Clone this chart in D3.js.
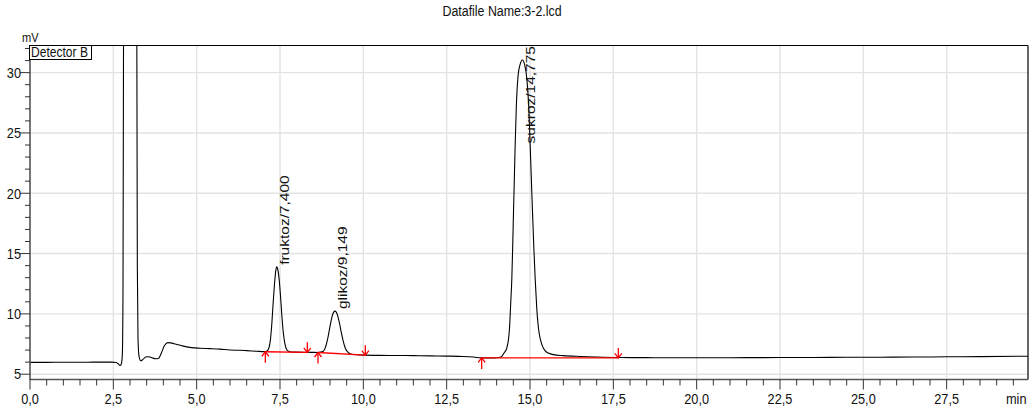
<!DOCTYPE html>
<html>
<head>
<meta charset="utf-8">
<script src="https://cdn.jsdelivr.net/npm/d3@7"></script>
<style>
  html, body { margin: 0; padding: 0; background: #fff; }
  svg { display: block; font-family: "Liberation Sans", Arial, Helvetica, sans-serif; }
</style>
</head>
<body>
<svg id="chart" width="1035" height="412"></svg>
<script>
// ---- chart text ----
const titleText = "Datafile Name:3-2.lcd";
const detectorName = "Detector B";
const xUnit = "min";
const yUnit = "mV";

// ---- axis ticks ----
const xTicks = [0, 2.5, 5, 7.5, 10, 12.5, 15, 17.5, 20, 22.5, 25, 27.5];
const yTicks = [5, 10, 15, 20, 25, 30];
const xMinorStep = 0.5;
const yMinorStep = 1;
const xDomain = [0, 29.94];
const yDomain = [4.56, 32.25];

// ---- detector signal, [time (min), signal (mV)] ----
const solventFront = [
  [0.00, 5.98], [0.50, 5.98], [1.00, 5.99], [1.50, 5.99], [2.00, 6.00], [2.45, 6.00],
  [2.58, 5.97], [2.65, 5.85], [2.70, 5.72], [2.74, 5.85], [2.77, 6.60], [2.79, 12.0],
  [2.81, 40.0], [2.84, 90.0], [3.00, 130.0], [3.17, 90.0], [3.20, 40.0], [3.22, 14.0],
  [3.24, 8.00], [3.27, 6.50], [3.32, 6.12], [3.38, 6.20], [3.47, 6.42], [3.56, 6.45],
  [3.66, 6.36], [3.78, 6.28], [3.86, 6.33], [3.94, 6.75], [4.03, 7.35], [4.13, 7.62],
  [4.22, 7.60], [4.38, 7.48], [4.60, 7.33], [4.85, 7.20], [5.10, 7.15], [5.40, 7.12],
  [5.70, 7.08], [6.00, 7.00], [6.30, 6.98], [6.50, 6.95], [6.80, 6.90]
];
const fruktozPeak = [
  [7.03, 6.87], [7.12, 6.95], [7.17, 7.20], [7.21, 7.80], [7.25, 9.00], [7.29, 10.7],
  [7.33, 12.3], [7.37, 13.5], [7.40, 13.9], [7.44, 13.6], [7.48, 12.7], [7.52, 11.3],
  [7.56, 9.70], [7.60, 8.40], [7.65, 7.50], [7.70, 7.05], [7.76, 6.90], [7.85, 6.84],
  [8.00, 6.83], [8.20, 6.82], [8.45, 6.81]
];
const glikozPeak = [
  [8.64, 6.80], [8.72, 6.83], [8.80, 6.90], [8.86, 7.20], [8.92, 7.80], [8.97, 8.50],
  [9.02, 9.25], [9.07, 9.85], [9.11, 10.15], [9.149, 10.23], [9.19, 10.13], [9.24, 9.75],
  [9.29, 9.15], [9.34, 8.45], [9.40, 7.70], [9.46, 7.15], [9.53, 6.85], [9.62, 6.68],
  [9.80, 6.61], [10.06, 6.58]
];
const midBaseline = [
  [10.50, 6.56], [11.00, 6.55], [11.50, 6.54], [12.00, 6.52], [12.50, 6.50],
  [13.00, 6.47], [13.30, 6.42], [13.55, 6.35], [13.80, 6.34], [14.00, 6.36]
];
const sukrozPeak = [
  [14.10, 6.40], [14.16, 6.50], [14.23, 6.80], [14.30, 7.13], [14.35, 7.80], [14.385, 8.79],
  [14.42, 10.8], [14.455, 12.94], [14.48, 15.5], [14.505, 18.47], [14.53, 21.2], [14.555, 24.0],
  [14.59, 27.2], [14.635, 29.5], [14.70, 30.65], [14.775, 31.05], [14.84, 30.65], [14.905, 29.5],
  [14.96, 27.3], [15.005, 24.0], [15.04, 21.2], [15.075, 18.47], [15.115, 15.5], [15.155, 12.94],
  [15.20, 10.6], [15.255, 8.79], [15.31, 7.90], [15.37, 7.35], [15.45, 6.95], [15.55, 6.75],
  [15.70, 6.62], [16.00, 6.54], [16.50, 6.47], [17.00, 6.42], [17.65, 6.38]
];
const tailBaseline = [
  [18.50, 6.37], [19.50, 6.36], [20.50, 6.36], [21.50, 6.37], [22.50, 6.38], [23.50, 6.39],
  [24.50, 6.40], [25.50, 6.41], [26.50, 6.42], [27.50, 6.44], [28.50, 6.46], [29.94, 6.49]
];

// ---- integrated peaks ----
const peakNames = ["fruktoz", "glikoz", "sukroz"];
const peakTimes = [7.400, 9.149, 14.775];
const peakHeights = [13.9, 10.23, 31.05];
const baseStartTime = [7.06, 8.64, 13.55];
const baseStartValue = [6.86, 6.80, 6.35];
const baseEndTime = [8.32, 10.06, 17.65];
const baseEndValue = [6.81, 6.58, 6.35];

// ---- layout ----
const plot = { left: 30, right: 1028, top: 45.5, bottom: 379.5 };
const hSquash = 0.85; // horizontal glyph compression used for all text

const svg = d3.select("#chart");
svg.append("rect").attr("width", 1035).attr("height", 412).attr("fill", "#fff");

const x = d3.scaleLinear().domain(xDomain).range([plot.left, plot.right]);
const y = d3.scaleLinear().domain(yDomain).range([plot.bottom, plot.top]);

const fmtComma = d => d3.format(".1f")(d).replace(".", ",");
const fmtRt = d => d3.format(".3f")(d).replace(".", ",");

// grid
const grid = svg.append("g").attr("stroke", "#e3e3e3").attr("stroke-width", 1.4);
grid.selectAll("line.v").data(xTicks.filter(d => d > 0)).join("line")
  .attr("x1", d => x(d)).attr("x2", d => x(d))
  .attr("y1", plot.top).attr("y2", plot.bottom);
grid.selectAll("line.h").data(yTicks).join("line")
  .attr("x1", plot.left).attr("x2", plot.right)
  .attr("y1", d => y(d)).attr("y2", d => y(d));

// clip for the trace
svg.append("clipPath").attr("id", "plotClip").append("rect")
  .attr("x", plot.left).attr("y", plot.top)
  .attr("width", plot.right - plot.left).attr("height", plot.bottom - plot.top);

const trace = [].concat(solventFront, fruktozPeak, glikozPeak, midBaseline, sukrozPeak, tailBaseline);
const line = d3.line().x(d => x(d[0])).y(d => y(d[1])).curve(d3.curveMonotoneX);
svg.append("path")
  .datum(trace)
  .attr("clip-path", "url(#plotClip)")
  .attr("fill", "none")
  .attr("stroke", "#000")
  .attr("stroke-width", 1.1)
  .attr("stroke-linejoin", "round")
  .attr("d", line);

// integration baselines with start/end markers
const red = "#ff0000";
const marks = svg.append("g").attr("stroke", red).attr("stroke-width", 1.3).attr("fill", "none");
peakNames.forEach((name, i) => {
  const xs = x(baseStartTime[i]), ys = y(baseStartValue[i]);
  const xe = x(baseEndTime[i]), ye = y(baseEndValue[i]);
  marks.append("line").attr("x1", xs).attr("y1", ys).attr("x2", xe).attr("y2", ye);
  // start: upward arrow below the baseline
  marks.append("line").attr("x1", xs).attr("y1", ys).attr("x2", xs).attr("y2", ys + 11);
  marks.append("path").attr("d", `M${xs - 3.5},${ys + 4.5}L${xs},${ys}L${xs + 3.5},${ys + 4.5}`);
  // end: downward arrow above the baseline
  marks.append("line").attr("x1", xe).attr("y1", ye - 10).attr("x2", xe).attr("y2", ye);
  marks.append("path").attr("d", `M${xe - 3.5},${ye - 4.5}L${xe},${ye}L${xe + 3.5},${ye - 4.5}`);
});

// frame
svg.append("line").attr("x1", plot.left).attr("x2", plot.right).attr("y1", plot.top).attr("y2", plot.top)
  .attr("stroke", "#000").attr("stroke-width", 1.2);
svg.append("line").attr("x1", plot.right).attr("x2", plot.right).attr("y1", plot.top).attr("y2", plot.bottom)
  .attr("stroke", "#000").attr("stroke-width", 1.2);
svg.append("line").attr("x1", plot.left).attr("x2", plot.left).attr("y1", plot.top).attr("y2", plot.bottom + 0.5)
  .attr("stroke", "#555").attr("stroke-width", 1.6);
svg.append("line").attr("x1", plot.left).attr("x2", plot.right).attr("y1", plot.bottom).attr("y2", plot.bottom)
  .attr("stroke", "#555").attr("stroke-width", 1.4);

// x ticks
const ticks = svg.append("g").attr("stroke", "#333").attr("stroke-width", 1);
const xMinor = d3.range(xDomain[0], xDomain[1], xMinorStep);
ticks.selectAll("line.xm").data(xMinor).join("line")
  .attr("x1", d => x(d)).attr("x2", d => x(d))
  .attr("y1", plot.bottom).attr("y2", d => xTicks.includes(d) ? plot.bottom + 10 : plot.bottom + 6);
const yMinor = d3.range(Math.ceil(yDomain[0]), yDomain[1], yMinorStep);
ticks.selectAll("line.ym").data(yMinor).join("line")
  .attr("y1", d => y(d)).attr("y2", d => y(d))
  .attr("x1", plot.left).attr("x2", d => yTicks.includes(d) ? plot.left - 10 : plot.left - 5);

// tick labels
const labelSize = 15;
svg.append("g").selectAll("text").data(xTicks).join("text")
  .attr("transform", d => `translate(${x(d)},404) scale(${hSquash},1)`)
  .attr("text-anchor", "middle")
  .attr("font-size", labelSize)
  .attr("fill", "#111")
  .text(fmtComma);
svg.append("g").selectAll("text").data(yTicks).join("text")
  .attr("transform", d => `translate(21,${y(d) + 5.3}) scale(${hSquash},1)`)
  .attr("text-anchor", "end")
  .attr("font-size", labelSize)
  .attr("fill", "#111")
  .text(d => d);

// unit labels
svg.append("text")
  .attr("transform", `translate(1026.5,404) scale(${hSquash},1)`)
  .attr("text-anchor", "end").attr("font-size", labelSize).attr("fill", "#111")
  .text(xUnit);
svg.append("text")
  .attr("transform", `translate(22,41.5) scale(${hSquash},1)`)
  .attr("font-size", 13).attr("fill", "#111")
  .text(yUnit);

// title
svg.append("text")
  .attr("transform", `translate(502,16) scale(0.8,1)`)
  .attr("text-anchor", "middle").attr("font-size", 15.5).attr("fill", "#111")
  .text(titleText);

// detector box
svg.append("rect").attr("x", 29.5).attr("y", 45.5).attr("width", 62).attr("height", 14)
  .attr("fill", "#fff").attr("stroke", "#000").attr("stroke-width", 1);
svg.append("text")
  .attr("transform", `translate(31,57.2) scale(${hSquash},1)`)
  .attr("font-size", 14.2).attr("fill", "#111")
  .text(detectorName);

// peak labels, rotated, kept inside the plot frame
const peakLabels = svg.append("g");
peakNames.forEach((name, i) => {
  const t = peakLabels.append("text")
    .attr("font-size", 15.5).attr("fill", "#111")
    .text(`${name}/${fmtRt(peakTimes[i])}`);
  const len = t.node().getComputedTextLength();
  const tx = x(peakTimes[i]) + 12.5;
  const ty = Math.max(y(peakHeights[i]) - 2, plot.top + len + 0.5);
  t.attr("transform", `translate(${tx},${ty}) scale(${hSquash},1) rotate(-90)`);
});
</script>
</body>
</html>
